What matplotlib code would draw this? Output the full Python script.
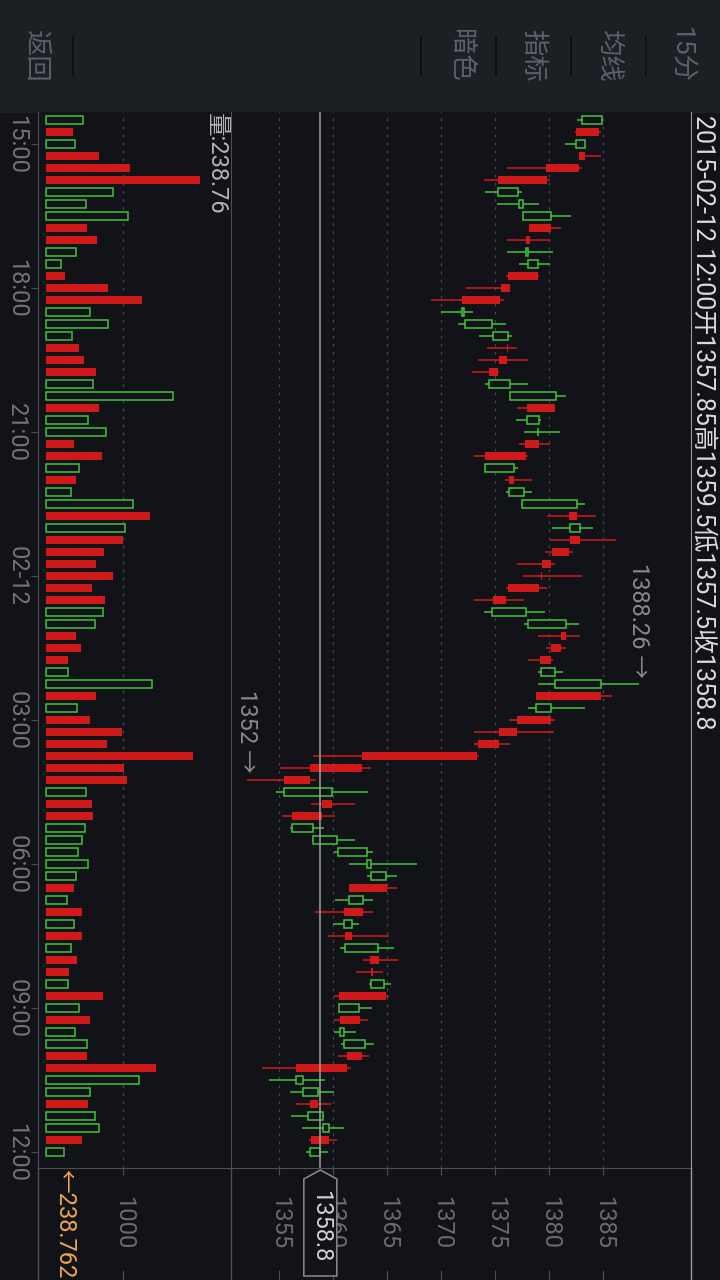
import numpy as np
import matplotlib
matplotlib.use('Agg')
import matplotlib.pyplot as plt
from matplotlib.lines import Line2D
from matplotlib.patches import Polygon, Rectangle

plt.rcParams['font.family'] = ['Roboto', 'Noto Sans CJK SC', 'DejaVu Sans']
plt.rcParams['lines.scale_dashes'] = False

# 15 min bars, 2015-02-11 14:30 -> 2015-02-12 12:00
opens = [1383.06, 1384.6, 1382.5, 1383.3, 1382.75, 1379.75, 1375.28, 1377.22, 1377.59, 1380.12,
         1378.18, 1377.87, 1378.06, 1378.92, 1376.33, 1375.4, 1371.91, 1372.22, 1374.81, 1376.17,
         1376.05, 1375.25, 1374.44, 1376.39, 1380.52, 1377.96, 1378.92, 1379.04, 1377.87, 1374.07,
         1376.73, 1376.3, 1377.5, 1382.53, 1381.95, 1382.81, 1381.79, 1380.13, 1379.32, 1379.02,
         1375.99, 1374.73, 1378.06, 1381.52, 1381.05, 1380.13, 1379.27, 1380.56, 1384.75, 1378.8,
         1380.13, 1376.98, 1375.34, 1373.3, 1362.66, 1357.84, 1355.47, 1359.85, 1358.92, 1356.21,
         1358.15, 1360.46, 1363.15, 1363.52, 1364.98, 1361.49, 1362.75, 1361.03, 1361.74, 1361.11,
         1364.23, 1363.68, 1363.52, 1364.88, 1360.56, 1362.47, 1360.65, 1361.02, 1362.66, 1361.27,
         1356.58, 1357.22, 1358.55, 1357.69, 1359.08, 1359.6, 1357.85]
highs = [1385.0, 1384.75, 1383.27, 1384.78, 1382.99, 1380.03, 1377.44, 1379.01, 1381.98, 1381.05,
         1380.03, 1380.31, 1380.03, 1379.01, 1376.33, 1375.8, 1372.9, 1375.96, 1376.51, 1376.98,
         1378.0, 1375.31, 1378.0, 1381.51, 1380.52, 1379.23, 1380.96, 1380.03, 1378.02, 1377.1,
         1378.4, 1378.4, 1383.27, 1384.32, 1384.01, 1386.14, 1382.16, 1380.5, 1383.0, 1379.76,
         1377.66, 1379.57, 1382.72, 1382.81, 1381.55, 1380.34, 1381.24, 1388.26, 1385.77, 1383.27,
         1380.5, 1380.43, 1376.36, 1373.49, 1363.49, 1358.37, 1363.18, 1362.0, 1360.16, 1359.14,
         1362.0, 1363.67, 1367.75, 1365.9, 1365.9, 1363.67, 1363.67, 1362.38, 1365.13, 1365.62,
         1365.99, 1364.6, 1365.35, 1365.16, 1363.58, 1363.21, 1362.1, 1363.77, 1363.31, 1361.64,
         1359.24, 1360.06, 1359.79, 1359.14, 1361.0, 1360.34, 1359.5]
lows = [1382.59, 1382.4, 1381.45, 1382.75, 1376.08, 1373.95, 1374.04, 1375.15, 1377.59, 1378.12,
        1376.08, 1376.08, 1377.19, 1375.99, 1372.28, 1369.04, 1369.97, 1371.54, 1373.49, 1374.23,
        1373.4, 1372.84, 1374.07, 1376.39, 1377.01, 1376.92, 1377.65, 1377.19, 1373.02, 1374.07,
        1375.89, 1375.99, 1377.38, 1379.79, 1380.25, 1380.06, 1379.6, 1377.01, 1377.57, 1375.99,
        1373.03, 1373.95, 1377.69, 1378.95, 1379.69, 1378.03, 1378.95, 1378.95, 1378.77, 1378.03,
        1376.27, 1373.03, 1373.03, 1358.12, 1355.03, 1352.0, 1354.69, 1357.93, 1355.25, 1355.99,
        1358.03, 1360.06, 1361.46, 1363.12, 1361.46, 1360.16, 1358.31, 1359.97, 1359.51, 1360.62,
        1362.75, 1362.1, 1363.31, 1360.06, 1360.56, 1360.06, 1360.06, 1360.71, 1360.43, 1353.4,
        1354.05, 1355.99, 1356.54, 1356.08, 1357.1, 1357.75, 1357.5]
closes = [1384.85, 1382.47, 1383.27, 1382.75, 1379.69, 1375.25, 1377.13, 1377.53, 1380.12, 1378.12,
          1377.84, 1377.99, 1378.98, 1376.17, 1375.52, 1371.91, 1372.07, 1374.66, 1376.14, 1376.05,
          1375.34, 1374.41, 1376.33, 1380.59, 1377.93, 1379.01, 1379.0, 1377.75, 1374.04, 1376.7,
          1376.27, 1377.62, 1382.53, 1381.85, 1382.81, 1381.95, 1380.25, 1379.32, 1379.2, 1376.18,
          1374.79, 1377.81, 1381.52, 1381.08, 1380.16, 1379.14, 1380.5, 1384.75, 1378.77, 1380.13,
          1377.01, 1375.34, 1373.4, 1362.66, 1357.84, 1355.43, 1359.85, 1358.92, 1356.18, 1358.09,
          1360.31, 1363.09, 1363.46, 1364.85, 1361.46, 1362.72, 1361.0, 1361.71, 1361.09, 1364.1,
          1363.4, 1363.49, 1364.66, 1360.53, 1362.35, 1360.62, 1360.96, 1362.9, 1361.27, 1356.55,
          1357.16, 1358.55, 1357.84, 1359.02, 1359.57, 1357.94, 1358.8]
volumes = [474, 349, 371, 686, 1082, 1992, 862, 513, 1056, 530,
           660, 384, 190, 246, 802, 1242, 565, 798, 332, 427,
           492, 647, 604, 1639, 686, 539, 772, 362, 724, 423,
           388, 319, 1121, 1345, 1018, 996, 750, 647, 867, 595,
           763, 733, 630, 388, 453, 285, 280, 1367, 647, 397,
           569, 983, 789, 1902, 1009, 1048, 513, 595, 608, 500,
           461, 410, 539, 384, 362, 267, 466, 358, 466, 319,
           401, 298, 280, 737, 423, 569, 371, 526, 530, 1423,
           1199, 565, 543, 630, 681, 466, 238.762]

time_ticks = [2, 14, 26, 38, 50, 62, 74, 86]
time_labels = ['15:00', '18:00', '21:00', '02-12', '03:00', '06:00', '09:00', '12:00']
price_ticks = [1355, 1360, 1365, 1370, 1375, 1380, 1385]
vol_ticks = [1000]
last_time = '2015-02-12 12:00'
menu = ['返回', '暗色', '指标', '均线', '15分']

W, H = 720, 1280
BG = '#111318'
HEAD = '#1c1f24'
RED = '#d01a1a'
GREEN = '#40c43a'
GRID = '#45484e'
AXIS = '#4c4f55'


def fx(x):
    return x / W


def fy(y):
    return 1 - y / H


o = np.array(opens)
c = np.array(closes)
hi = np.array(highs)
lo = np.array(lows)
vol = np.array(volumes)
idx = np.arange(len(o))
up = c >= o
body_lo = np.minimum(o, c)
body_w = np.maximum(np.abs(c - o), 0.08)
y_range = (len(o) + 0.333, -0.667)

fig = plt.figure(figsize=(7.2, 12.8), dpi=100, facecolor=BG)
ax = fig.add_axes([fx(231), fy(1168), 460 / W, 1056 / H], facecolor=BG)
axv = fig.add_axes([fx(38), fy(1168), 193 / W, 1056 / H], facecolor=BG)

# candles (rotated view: time runs downwards, price to the right)
ax.hlines(idx[~up], lo[~up], hi[~up], color=RED, lw=1.1, zorder=2)
ax.hlines(idx[up], lo[up], hi[up], color=GREEN, lw=1.1, zorder=2)
ax.barh(idx[~up], body_w[~up], left=body_lo[~up], height=0.68, color=RED, zorder=3)
ax.barh(idx[up], body_w[up], left=body_lo[up], height=0.68, facecolor=BG,
        edgecolor=GREEN, lw=1.1, zorder=3)
ax.set_xlim(1350.53, 1393.12)
ax.set_ylim(*y_range)
ax.axvline(c[-1], color='#a0a0a0', lw=1.1, zorder=5)

ax.set_xticks(price_ticks, labels=[str(p) for p in price_ticks])
ax.set_yticks([])
ax.tick_params(axis='x', direction='out', length=5, width=0.8, color=AXIS, pad=15,
               labelsize=17, labelcolor='#6c6c6c', labelrotation=-90)
ax.grid(axis='x', color=GRID, linestyle=(0, (2, 3.8)), lw=0.9)
ax.set_axisbelow(True)
ax.spines['top'].set_visible(False)
ax.spines['left'].set_color(AXIS)
ax.spines['bottom'].set_color(AXIS)
ax.spines['right'].set_color('#9c9c9c')
ax.vlines(price_ticks, -0.106, -0.097, transform=ax.get_xaxis_transform(),
          clip_on=False, color=AXIS, lw=0.8)

# max / min markers
i_max = int(np.argmax(hi))
i_min = int(np.argmin(lo))
ax.text(hi[i_max], i_max - 0.5, f'{hi[i_max]:g} →', rotation=-90, rotation_mode='anchor',
        ha='right', va='center', fontsize=17, color='#8a8a8a')
ax.text(lo[i_min], i_min - 0.6, f'{lo[i_min]:g} →', rotation=-90, rotation_mode='anchor',
        ha='right', va='center', fontsize=17, color='#8a8a8a')

# volume panel
axv.barh(idx[~up], vol[~up], height=0.68, color=RED, zorder=3)
axv.barh(idx[up], vol[up], height=0.68, facecolor=BG, edgecolor=GREEN, lw=1.1, zorder=3)
axv.set_xlim(-103, 2393)
axv.set_ylim(*y_range)
axv.set_xticks(vol_ticks, labels=[str(v) for v in vol_ticks])
axv.set_yticks(time_ticks, labels=time_labels)
axv.tick_params(axis='x', direction='out', length=5, width=0.8, color=AXIS, pad=15,
                labelsize=17, labelcolor='#6c6c6c', labelrotation=-90)
axv.tick_params(axis='y', direction='out', length=5, width=0.8, color=AXIS, pad=2,
                labelsize=17, labelcolor='#747474')
for lbl in axv.get_yticklabels():
    lbl.set_rotation(-90)
    lbl.set_rotation_mode('default')
    lbl.set_ha('right')
    lbl.set_va('center')
axv.grid(axis='x', color=GRID, linestyle=(0, (2, 3.8)), lw=0.9)
axv.set_axisbelow(True)
axv.spines['top'].set_visible(False)
axv.spines['right'].set_visible(False)
axv.spines['left'].set_color(AXIS)
axv.spines['bottom'].set_color(AXIS)
axv.vlines(vol_ticks, -0.106, -0.097, transform=axv.get_xaxis_transform(),
           clip_on=False, color=AXIS, lw=0.8)
axv.text(0.922, 0.999, f'量:{vol[-1]:.2f}', transform=axv.transAxes, rotation=-90,
         rotation_mode='anchor', ha='left', va='center', fontsize=17, color='#b4b4b4')
axv.text(vol[-1], -0.001, f'←{vol[-1]:.3f}', transform=axv.get_xaxis_transform(),
         rotation=-90, rotation_mode='anchor', ha='left', va='center', fontsize=17,
         color='#f0a848', clip_on=False)

# panel borders below the chart
for x, col in [(38, AXIS), (231, AXIS), (691, '#9c9c9c')]:
    fig.add_artist(Line2D([fx(x), fx(x)], [fy(1168), 0], transform=fig.transFigure,
                          color=col, lw=1))

# header bar
fig.add_artist(Rectangle((0, fy(112)), 1, 112 / H, transform=fig.transFigure,
                         color=HEAD, zorder=0))
for x, label in zip([35, 460, 533, 608, 681], menu):
    fig.text(fx(x), fy(55), label, rotation=-90, ha='center', va='center',
             fontsize=19, color='#5b6069')
for x in [73, 421, 496, 571, 646]:
    fig.add_artist(Line2D([fx(x), fx(x)], [fy(37), fy(75)], transform=fig.transFigure,
                          color='#0c0e11', lw=1.2))

# info line of the last bar
info = f'{last_time}开{o[-1]:g}高{hi[-1]:g}低{lo[-1]:g}收{c[-1]:g}'
fig.text(fx(703), fy(115), info, rotation=-90, rotation_mode='anchor',
         ha='left', va='center', fontsize=18, color='#dcdcdc')

# current price tag on the crosshair
cx = ax.transData.transform((c[-1], 0))[0]
tag = Polygon([[fx(cx), fy(1170)], [fx(cx + 16.5), fy(1179)], [fx(cx + 16.5), fy(1276)],
               [fx(cx - 16.5), fy(1276)], [fx(cx - 16.5), fy(1179)]],
              closed=True, transform=fig.transFigure, facecolor=BG, edgecolor='#8c8c8c',
              lw=1.1, zorder=5)
fig.add_artist(tag)
fig.text(fx(cx), fy(1226), f'{c[-1]:g}', rotation=-90, ha='center', va='center',
         fontsize=17, color='#d4d4d4', zorder=6)

fig.savefig('out.png', dpi=100, facecolor=BG)
